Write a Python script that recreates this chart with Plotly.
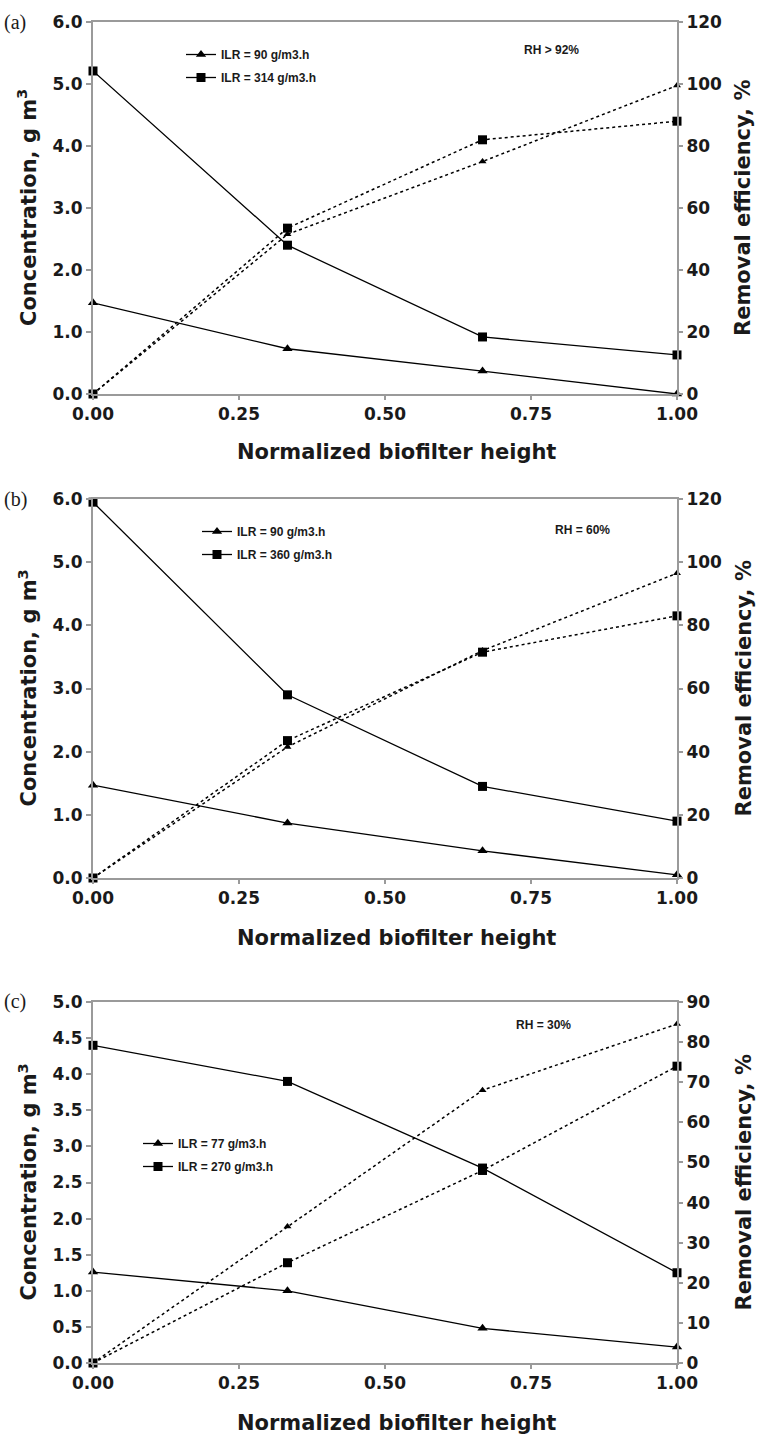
import plotly.graph_objects as go
from plotly.subplots import make_subplots

# ---------------- data ----------------
height_norm = [0.0, 0.333, 0.667, 1.0]

# panel (a) RH > 92%
a_conc_low = [1.47, 0.73, 0.37, 0.0]     # ILR = 90
a_conc_high = [5.21, 2.40, 0.92, 0.63]   # ILR = 314
a_re_low = [0.0, 51.5, 75.0, 99.5]
a_re_high = [0.0, 53.5, 82.0, 88.0]
a_names = ["ILR = 90 g/m3.h", "ILR = 314 g/m3.h"]
a_rh = "RH > 92%"

# panel (b) RH = 60%
b_conc_low = [1.47, 0.87, 0.43, 0.05]    # ILR = 90
b_conc_high = [5.95, 2.90, 1.45, 0.90]   # ILR = 360
b_re_low = [0.0, 41.5, 72.0, 96.5]
b_re_high = [0.0, 43.5, 71.5, 83.0]
b_names = ["ILR = 90 g/m3.h", "ILR = 360 g/m3.h"]
b_rh = "RH = 60%"

# panel (c) RH = 30%
c_conc_low = [1.26, 1.00, 0.48, 0.22]    # ILR = 77
c_conc_high = [4.40, 3.90, 2.70, 1.25]   # ILR = 270
c_re_low = [0.0, 34.0, 68.0, 84.5]
c_re_high = [0.0, 25.0, 48.0, 74.0]
c_names = ["ILR = 77 g/m3.h", "ILR = 270 g/m3.h"]
c_rh = "RH = 30%"

panel_labels = ["(a)", "(b)", "(c)"]
x_ticks = [0.0, 0.25, 0.5, 0.75, 1.0]
x_ticktext = ["0.00", "0.25", "0.50", "0.75", "1.00"]
x_title = "Normalized biofilter height"
y_left_title = "Concentration, g m<sup>3</sup>"
y_right_title = "Removal efficiency, %"

# ---------------- layout helpers ----------------
W, H = 757, 1441
def py(px):
    return 1 - px / H
def pxx(px):
    return px / W

X0, X1 = 93, 677
panels_px = [(22, 394), (499, 878), (1002, 1363)]
xtitle_px = [452, 938, 1423]
left_ranges = [(0, 6), (0, 6), (0, 5)]
left_dtick = [1.0, 1.0, 0.5]
right_ranges = [(0, 120), (0, 120), (0, 90)]
right_dtick = [20, 20, 10]
legend_pos = [(181, 40), (197, 517), (138, 1129)]
rh_pos = [(551, 50), (582, 530), (543, 1025)]

panels = [
    (a_conc_low, a_conc_high, a_re_low, a_re_high, a_names, a_rh),
    (b_conc_low, b_conc_high, b_re_low, b_re_high, b_names, b_rh),
    (c_conc_low, c_conc_high, c_re_low, c_re_high, c_names, c_rh),
]

fig = make_subplots(rows=3, cols=1, specs=[[{"secondary_y": True}]] * 3)

AX = "#9a9a9a"
TXT = "#1a1a1a"
WIDE = "DejaVu Sans, Liberation Sans, Arial, sans-serif"
SANS = "Liberation Sans, Arial, sans-serif"
TICKFONT = dict(family=WIDE, size=17, color=TXT, weight="bold")
TITLEFONT = dict(family=WIDE, size=21, color=TXT, weight="bold")
SMALLFONT = dict(family=SANS, size=12, color=TXT, weight="bold")

legend_names = ["legend", "legend2", "legend3"]

for i, (cl, ch, rl, rhh, names, rh) in enumerate(panels):
    row = i + 1
    lg = legend_names[i]
    common = dict(x=height_norm, cliponaxis=False)
    fig.add_trace(go.Scatter(y=cl, mode="lines+markers", name=names[0],
                             line=dict(color="black", width=1.3),
                             marker=dict(symbol="triangle-up", size=9, color="black"),
                             legend=lg, legendgroup=f"g{i}a", **common),
                  row=row, col=1, secondary_y=False)
    fig.add_trace(go.Scatter(y=ch, mode="lines+markers", name=names[1],
                             line=dict(color="black", width=1.3),
                             marker=dict(symbol="square", size=9, color="black"),
                             legend=lg, legendgroup=f"g{i}b", **common),
                  row=row, col=1, secondary_y=False)
    fig.add_trace(go.Scatter(y=rl, mode="lines+markers", showlegend=False,
                             line=dict(color="black", width=1.5, dash="dot"),
                             marker=dict(symbol="triangle-up", size=7, color="black"),
                             **common),
                  row=row, col=1, secondary_y=True)
    fig.add_trace(go.Scatter(y=rhh, mode="lines+markers", showlegend=False,
                             line=dict(color="black", width=1.5, dash="dot"),
                             marker=dict(symbol="square", size=9, color="black"),
                             **common),
                  row=row, col=1, secondary_y=True)

    top, bot = panels_px[i]
    dom = [py(bot), py(top)]
    xa = "xaxis" if i == 0 else f"xaxis{row}"
    ya_l = "yaxis" if i == 0 else f"yaxis{2 * i + 1}"
    ya_r = f"yaxis{2 * i + 2}"
    fig.layout[xa].update(
        domain=[pxx(X0), pxx(X1)], range=[0, 1], automargin=False,
        tickvals=x_ticks, ticktext=x_ticktext,
        showline=True, linecolor=AX, linewidth=2, mirror=True,
        ticks="outside", ticklen=4, tickcolor=AX, tickwidth=1.5,
        showgrid=False, zeroline=False, tickfont=TICKFONT,
    )
    fig.layout[ya_l].update(
        domain=dom, range=list(left_ranges[i]), dtick=left_dtick[i], tick0=0,
        tickformat=".1f", automargin=False,
        showline=True, linecolor=AX, linewidth=2,
        ticks="outside", ticklen=5, tickcolor=AX, tickwidth=1.5,
        showgrid=False, zeroline=False, tickfont=TICKFONT,
    )
    fig.layout[ya_r].update(
        range=list(right_ranges[i]), dtick=right_dtick[i], tick0=0,
        automargin=False,
        showline=True, linecolor=AX, linewidth=2,
        ticks="outside", ticklen=4, tickcolor=AX, tickwidth=1.5,
        showgrid=False, zeroline=False, tickfont=TICKFONT,
    )

    lx, ly = legend_pos[i]
    fig.layout[lg] = dict(
        x=pxx(lx), y=py(ly), xanchor="left", yanchor="top",
        bgcolor="rgba(0,0,0,0)", borderwidth=0,
        font=SMALLFONT, traceorder="grouped", tracegroupgap=4,
    )

    mid = (top + bot) / 2
    # axis titles
    fig.add_annotation(x=pxx(396), y=py(xtitle_px[i]), xref="paper", yref="paper",
                       text=x_title, showarrow=False, xanchor="center", yanchor="middle",
                       font=TITLEFONT)
    fig.add_annotation(x=pxx(27), y=py(mid), xref="paper", yref="paper",
                       text=y_left_title, showarrow=False, textangle=-90,
                       xanchor="center", yanchor="middle", font=TITLEFONT)
    fig.add_annotation(x=pxx(743), y=py(mid), xref="paper", yref="paper",
                       text=y_right_title, showarrow=False, textangle=-90,
                       xanchor="center", yanchor="middle", font=TITLEFONT)

    rx, ryy = rh_pos[i]
    fig.add_annotation(x=pxx(rx), y=py(ryy), xref="paper", yref="paper",
                       text=rh, showarrow=False, xanchor="center", yanchor="middle",
                       font=SMALLFONT)
    fig.add_annotation(x=pxx(2), y=py(top), xref="paper", yref="paper",
                       text=panel_labels[i], showarrow=False, xanchor="left", yanchor="middle",
                       font=dict(family="Liberation Serif, Times New Roman, serif", size=20, color=TXT))

fig.update_layout(
    width=W, height=H,
    margin=dict(l=0, r=0, t=0, b=0, autoexpand=False),
    paper_bgcolor="white", plot_bgcolor="white",
    showlegend=True,
)

fig.write_html("out.html", config={"displayModeBar": False},
               post_script="document.body.style.margin='0px';")
